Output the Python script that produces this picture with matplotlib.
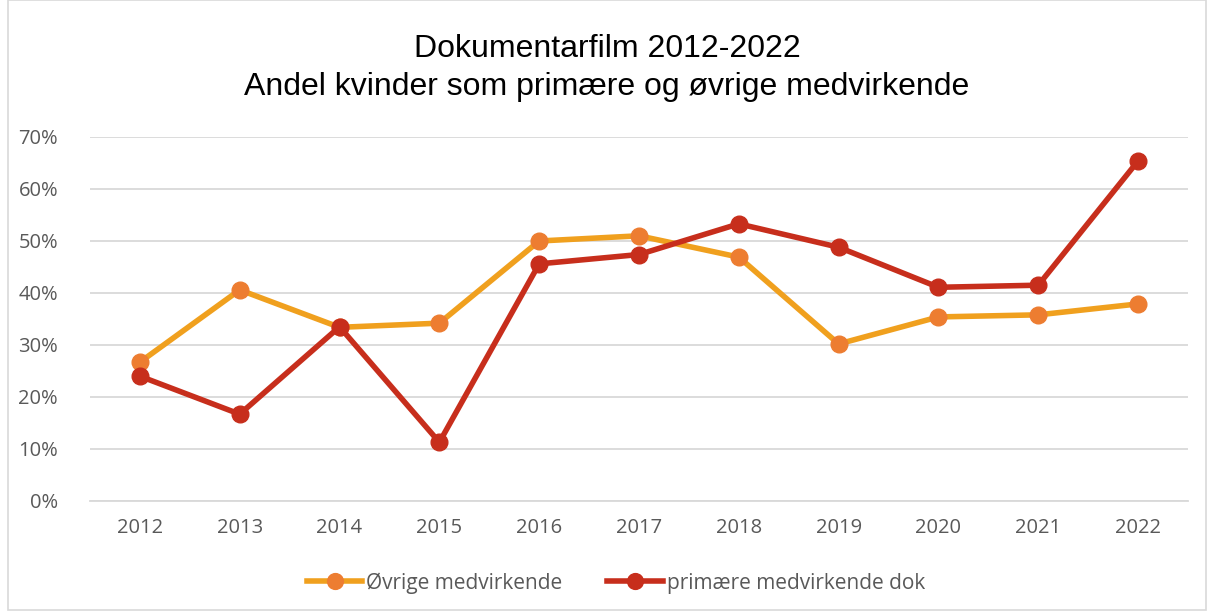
import matplotlib
matplotlib.use("Agg")
from matplotlib import pyplot as plt
from matplotlib.patches import Rectangle
from matplotlib.ticker import FuncFormatter

years = ["2012", "2013", "2014", "2015", "2016", "2017", "2018", "2019", "2020", "2021", "2022"]
oevrige = [26.7, 40.6, 33.4, 34.2, 50.0, 51.0, 46.9, 30.2, 35.4, 35.8, 37.9]
primaere = [24.0, 16.7, 33.5, 11.3, 45.6, 47.4, 53.3, 48.8, 41.1, 41.5, 65.4]

tick_font = "Open Sans"
grid_col = "#d9d9d9"
text_col = "#595959"

fig = plt.figure(figsize=(12.14, 6.14), dpi=100)
fig.patches.append(Rectangle((8 / 1214, 4 / 614), 1198 / 1214, 610 / 614,
                             transform=fig.transFigure, fill=False,
                             edgecolor=grid_col, linewidth=1.2))
ax = fig.add_axes([90 / 1214, 1 - 501 / 614, 1098 / 1214, 364 / 614])

x = list(range(len(years)))
ax.plot(x, oevrige, color="#F0A01E", linewidth=4, marker="o", markersize=12,
        markerfacecolor="#ED7D31", markeredgecolor="#ED7D31",
        label="Øvrige medvirkende", zorder=3)
ax.plot(x, primaere, color="#C72E1C", linewidth=4, marker="o", markersize=12,
        markerfacecolor="#C72E1C", markeredgecolor="#C72E1C",
        label="primære medvirkende dok", zorder=4)

ax.set_xlim(-0.5, len(years) - 0.5)
ax.set_ylim(0, 70)
ax.set_yticks(range(0, 71, 10))
ax.yaxis.set_major_formatter(FuncFormatter(lambda v, p: f"{v:.0f}%"))
ax.set_xticks(x)
ax.set_xticklabels(years)
ax.grid(axis="y", color=grid_col, linewidth=1.3)
ax.set_axisbelow(True)
for s in ["top", "right", "left"]:
    ax.spines[s].set_visible(False)
ax.spines["bottom"].set_color(grid_col)
ax.spines["bottom"].set_linewidth(1.3)
ax.tick_params(length=0, labelsize=14.5, labelcolor=text_col)
ax.tick_params(axis="x", pad=12)
ax.tick_params(axis="y", pad=23)
for lab in ax.get_xticklabels() + ax.get_yticklabels():
    lab.set_fontfamily(tick_font)

fig.text(0.5, 1 - 68 / 614, "Dokumentarfilm 2012-2022\nAndel kvinder som primære og øvrige medvirkende",
         ha="center", va="center", fontsize=23, fontfamily="Liberation Sans",
         color="black", linespacing=1.32)

leg = fig.legend(loc="center", bbox_to_anchor=(616 / 1214, 1 - 583 / 614), ncol=2, frameon=False,
                 prop={"family": tick_font, "size": 15}, labelcolor=text_col,
                 handlelength=2.65, handletextpad=0.2, columnspacing=2.15,
                 markerscale=0.95)

fig.savefig("out.png", dpi=100)
